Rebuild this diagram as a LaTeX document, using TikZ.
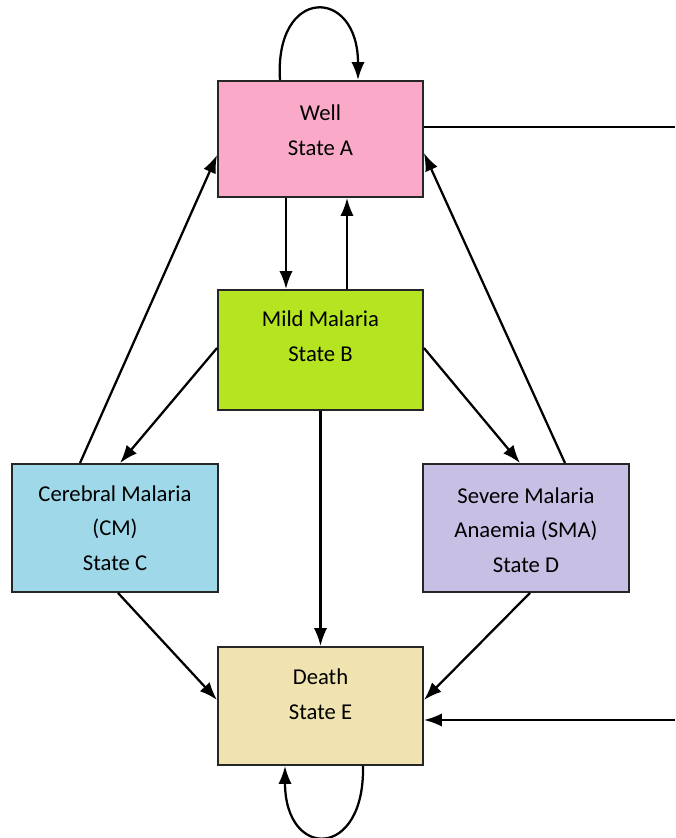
\documentclass[tikz,border=0pt]{standalone}
\usepackage{fontspec}
\setmainfont{Carlito}
\usetikzlibrary{arrows.meta,calc,positioning}
\definecolor{wellpink}{RGB}{250,170,200}
\definecolor{mildgreen}{RGB}{181,228,32}
\definecolor{cmblue}{RGB}{158,216,233}
\definecolor{smaviolet}{RGB}{200,191,229}
\definecolor{deathtan}{RGB}{240,227,176}
\begin{document}
\begin{tikzpicture}[x=0.75pt,y=0.75pt,
stbox/.style={rectangle,draw=black!85,line width=1.4pt,inner sep=0pt,minimum width=153.75pt},
lbl/.style={align=center,font=\fontsize{17}{26}\selectfont,inner sep=0pt},
arr/.style={-{Latex[length=13.5pt,width=10pt]},line width=1.7pt}]
    \useasboundingbox (0,0) rectangle (675,838);
    \node[stbox,fill=wellpink,minimum height=87pt] (A) at (320.5,699) {};
    \node[stbox,fill=mildgreen,minimum height=90pt] (B) at (320.5,488) {};
    \node[stbox,fill=cmblue,minimum width=154.5pt,minimum height=96pt] (C) at (115,310) {};
    \node[stbox,fill=smaviolet,minimum width=154.5pt,minimum height=96pt] (D) at (526,310) {};
    \node[stbox,fill=deathtan,minimum height=88.5pt] (E) at (320.5,132) {};
    \node[lbl] (Atxt) at ($(A)+(0,9)$) {Well\\State A};
    \node[lbl] (Btxt) at ($(B)+(0,13.5)$) {Mild Malaria\\State B};
    \node[lbl] (Ctxt) at ($(C)+(0,0)$) {Cerebral Malaria\\(CM)\\State C};
    \node[lbl] (Dtxt) at ($(D)+(0,-2)$) {Severe Malaria\\Anaemia (SMA)\\State D};
    \node[lbl] (Etxt) at ($(E)+(0,12)$) {Death\\State E};
    \coordinate (Aout) at (675,711);
    \coordinate (Ein) at (675,118);
    \draw[line width=1.7pt] (Aout -| A.east) -- (Aout);
    \draw[arr] (Ein) -- (Ein -| E.east);
    \draw[arr] ($(A.north)+(-40.5,0)$) .. controls +(-6,94) and +(0,94) .. ($(A.north)+(37.5,0)$);
    \draw[arr] ($(E.south)+(42.5,0)$) .. controls +(2,-94) and +(0,-94) .. ($(E.south)+(-35.5,0)$);
    \draw[arr] ($(A.south)+(-34.5,0)$) coordinate (ab) -- (ab |- B.north);
    \draw[arr] ($(B.north)+(26.5,0)$) coordinate (ba) -- (ba |- A.south);
    \draw[arr] ($(B.west)+(0,2)$) -- ($(C.north)+(5,0)$);
    \draw[arr] ($(C.north)+(-35,0)$) -- ($(A.west)+(0,-16)$);
    \draw[arr] ($(B.east)+(0,2)$) -- ($(D.north)+(-6,0)$);
    \draw[arr] ($(D.north)+(39,0)$) -- ($(A.east)+(0,-14)$);
    \draw[arr] (B.south) -- (E.north);
    \draw[arr] ($(C.south)+(3,0)$) -- ($(E.west)+(0,6)$);
    \draw[arr] ($(D.south)+(4,0)$) -- ($(E.east)+(0,6)$);
\end{tikzpicture}
\end{document}
